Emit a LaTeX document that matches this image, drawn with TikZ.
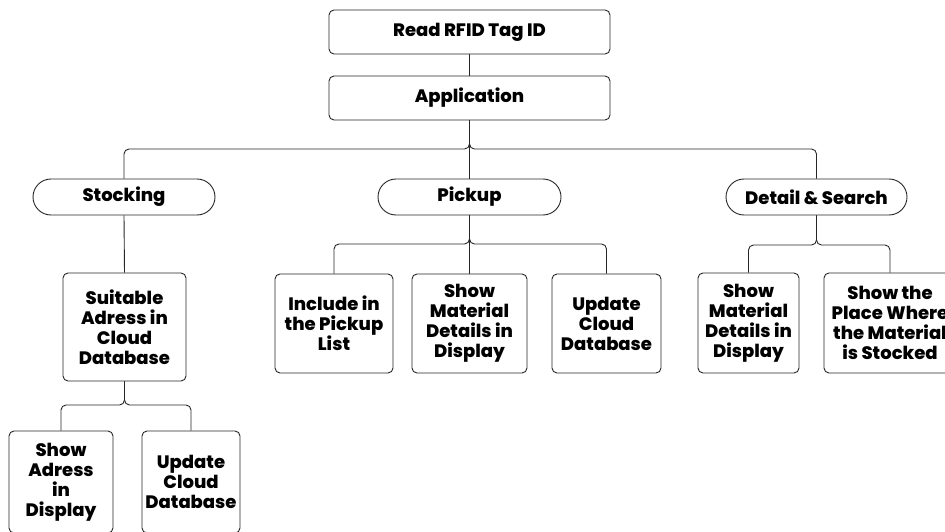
\documentclass[tikz,border=0pt]{standalone}
\usepackage{fontspec}
\setmainfont{Poppins ExtraBold}
\begin{document}
\begin{tikzpicture}[x=1pt,y=-1pt,
  font=\fontsize{18}{20}\selectfont,
  box/.style={draw=black!85, line width=0.9pt, rounded corners=5pt, align=center, inner sep=0pt},
  pill/.style={draw=black!85, line width=0.9pt, rounded corners=18pt, align=center, inner sep=0pt, minimum height=36pt},
  link/.style={draw=black!85, line width=0.9pt, rounded corners=5pt}]
\useasboundingbox (0,0) rectangle (945,532);

% top chain
\node[box, minimum width=281pt, minimum height=44pt] (read) at (469.5,32) {Read RFID Tag ID};
\node[box, minimum width=281pt, minimum height=44pt] (app) at (469.5,98) {Application};

% three branches
\node[pill, minimum width=182pt] (stock) at (124,197) {Stocking};
\node[pill, minimum width=183pt] (pick) at (469.5,197) {Pickup};
\node[pill, minimum width=181pt] (det) at (816.5,197) {Detail \& Search};

% stocking branch
\node[box, minimum width=123pt, minimum height=108pt] (suit) at (124.5,327) {Suitable\\Adress in\\Cloud\\Database};
\node[box, minimum width=104pt, minimum height=102pt] (sadr) at (61,482) {Show\\Adress\\in\\Display};
\node[box, minimum width=98pt, minimum height=102pt] (supd) at (191,482) {Update\\Cloud\\Database};

% pickup branch
\node[box, minimum width=118pt, minimum height=99pt] (pinc) at (334,323.5) {Include in\\the Pickup\\List};
\node[box, minimum width=115pt, minimum height=99pt] (pmat) at (469.5,323.5) {Show\\Material\\Details in\\Display};
\node[box, minimum width=109pt, minimum height=99pt] (pupd) at (606.5,323.5) {Update\\Cloud\\Database};

% detail & search branch
\node[box, minimum width=101pt, minimum height=100pt] (dmat) at (748.5,323) {Show\\Material\\Details in\\Display};
\node[box, minimum width=132pt, minimum height=100pt] (dplc) at (890,323) {Show the\\Place Where\\the Material\\is Stocked};

% bus levels
\coordinate (b1) at (469.5,149);
\coordinate (b2) at (469.5,244);
\coordinate (b3) at (816.5,245);
\coordinate (b4) at (124.5,405);

\draw[link] (read.south) -- (app.north);
\draw[link] (app.south) -- (app.south |- b1) -- (stock.north |- b1) -- (stock.north);
\draw[link] (app.south) -- (app.south |- b1) -- (det.north |- b1) -- (det.north);
\draw[link] (app.south) -- (pick.north);

\draw[link] (stock.south) -- (suit.north);
\draw[link] (suit.south) -- (suit.south |- b4) -- (sadr.north |- b4) -- (sadr.north);
\draw[link] (suit.south) -- (suit.south |- b4) -- (supd.north |- b4) -- (supd.north);

\draw[link] (pick.south) -- (pick.south |- b2) -- (pinc.north |- b2) -- (pinc.north);
\draw[link] (pick.south) -- (pick.south |- b2) -- (pupd.north |- b2) -- (pupd.north);
\draw[link] (pick.south) -- (pmat.north);

\draw[link] (det.south) -- (det.south |- b3) -- (dmat.north |- b3) -- (dmat.north);
\draw[link] (det.south) -- (det.south |- b3) -- (dplc.north |- b3) -- (dplc.north);
\end{tikzpicture}
\end{document}
